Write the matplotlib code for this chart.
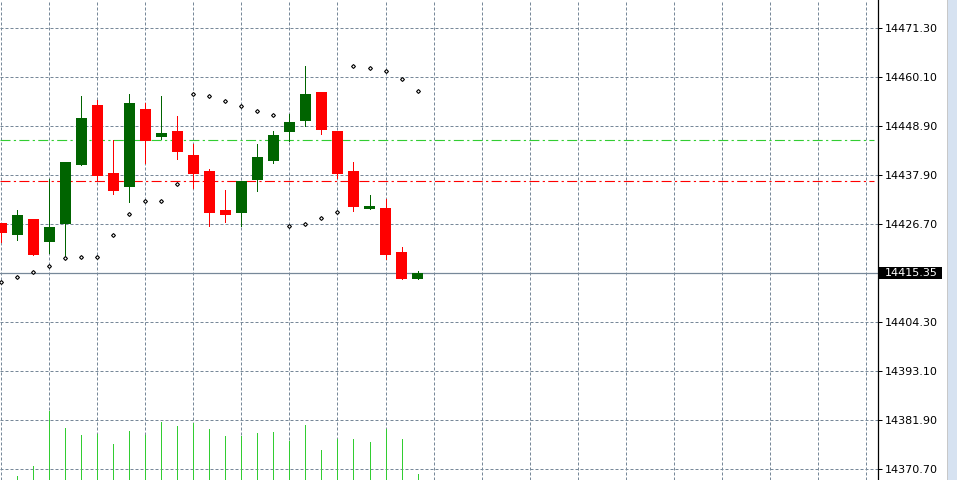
import matplotlib
matplotlib.use("Agg")
import matplotlib.pyplot as plt
from matplotlib.patches import Rectangle
from matplotlib.transforms import IdentityTransform

# candles, oldest first
opens = [14426.80, 14424.12, 14427.71, 14422.52, 14426.64, 14440.12, 14453.77, 14438.23, 14435.09,
         14452.85, 14446.52, 14447.83, 14442.34, 14438.68, 14429.77, 14429.15, 14436.69, 14441.04,
         14447.67, 14450.18, 14456.74, 14447.83, 14438.68, 14430.07, 14430.29, 14420.17, 14414.07]
highs = [14426.80, 14429.77, 14427.71, 14436.85, 14440.74, 14455.83, 14454.91, 14445.77, 14456.35,
         14454.23, 14455.83, 14451.25, 14444.85, 14439.14, 14434.34, 14436.40, 14444.85, 14447.83,
         14451.71, 14462.68, 14456.74, 14447.83, 14440.74, 14433.20, 14432.28, 14421.31, 14415.83]
lows = [14422.50, 14422.98, 14419.55, 14420.01, 14418.96, 14440.12, 14436.63, 14433.43, 14431.67,
        14440.58, 14446.07, 14441.49, 14434.73, 14426.18, 14427.09, 14426.18, 14434.18, 14440.58,
        14445.54, 14449.04, 14447.21, 14437.15, 14429.61, 14430.07, 14418.64, 14414.07, 14414.07]
closes = [14424.60, 14428.63, 14419.55, 14425.88, 14440.74, 14450.80, 14437.61, 14434.18, 14454.23,
          14445.61, 14447.37, 14443.09, 14438.07, 14429.15, 14428.69, 14436.40, 14441.88, 14446.91,
          14449.88, 14456.28, 14448.12, 14438.07, 14430.52, 14430.75, 14419.55, 14414.07, 14415.35]
sar = [14413.31, 14414.61, 14415.76, 14417.13, 14418.96, 14419.19, 14419.19, 14424.21, 14428.79,
       14431.76, 14431.76, 14435.64, 14456.21, 14455.76, 14454.61, 14453.47, 14452.33, 14451.41,
       14426.27, 14426.73, 14428.10, 14429.47, 14462.61, 14462.16, 14461.47, 14459.64, 14456.90]
volumes = [0, 80, 280, 1380, 1040, 900, 920, 720, 980, 900, 1160, 1080, 1140, 1020, 880, 880,
           940, 960, 780, 1100, 600, 820, 820, 760, 1020, 820, 120]

price_ticks = [14471.30, 14460.10, 14448.90, 14437.90, 14426.70, 14415.50,
               14404.30, 14393.10, 14381.90, 14370.70]
price_labels = ["14471.30", "14460.10", "14448.90", "14437.90", "14426.70", "",
                "14404.30", "14393.10", "14381.90", "14370.70"]
take_profit = 14445.77
stop_loss = 14436.33
last_price = closes[-1]

grid_col = "#778899"
up_col = "#006400"
down_col = "#ff0000"
vol_col = "#32cd32"

fig = plt.figure(figsize=(9.57, 4.8), dpi=100)
fig.patch.set_facecolor("white")
ax = fig.add_axes([0, 0, 877.5 / 957, 1])
ax_v = ax.twinx()

ax.set_xlim(-0.08, 54.73)
ax.set_ylim(14368.17, 14477.76)

# grid
ax.set_xticks(range(0, 55, 3))
ax.set_yticks(price_ticks)
ax.set_yticklabels(price_labels)
ax.grid(True, color=grid_col, linestyle=(0, (3, 2)), linewidth=0.72)
ax.set_axisbelow(True)
ax.yaxis.tick_right()
ax.tick_params(axis="x", length=0, labelbottom=False)
ax.tick_params(axis="y", direction="out", length=3, width=0.72, pad=2,
               labelsize=8, colors="black", left=False, labelleft=False,
               right=True, labelright=True)
for s in ["top", "left", "bottom"]:
    ax.spines[s].set_visible(False)
ax.spines["right"].set_linewidth(0.9)

# volumes
ax_v.set_ylim(0, 9600)
ax_v.set_axis_off()
x = list(range(len(opens)))
ax_v.vlines(x, 0, volumes, color=vol_col, linewidth=0.7, antialiased=False)

# levels
ax.axhline(take_profit, xmax=0.996, color="#32cd32", linewidth=0.8,
           linestyle=(0, (9, 3, 2, 3)), zorder=2)
ax.axhline(stop_loss, xmax=0.996, color="#ff0000", linewidth=0.8,
           linestyle=(0, (9, 3, 2, 3)), zorder=2)
ax.axhline(last_price, color=grid_col, linewidth=0.9, zorder=2)

# candles
for i in x:
    c = up_col if closes[i] >= opens[i] else down_col
    ax.vlines(i, lows[i], highs[i], color=c, linewidth=0.7, zorder=3, antialiased=False)
    lo = min(opens[i], closes[i])
    h = max(abs(closes[i] - opens[i]), 0.5)
    ax.bar(i, h, bottom=lo, width=0.69, color=c, linewidth=0, zorder=4, antialiased=False)

# parabolic SAR
ax.plot(x, sar, linestyle="none", marker="D", markersize=2.0, markerfacecolor="white",
        markeredgecolor="black", markeredgewidth=0.8, zorder=5)

# right margin strip
fig.add_artist(Rectangle((947, 0), 1, 480, transform=IdentityTransform(),
                         facecolor="#c8c8c8", edgecolor="none", zorder=5))
fig.add_artist(Rectangle((948, 0), 9, 480, transform=IdentityTransform(),
                         facecolor="#d6e2f1", edgecolor="none", zorder=5))

# current price label
y_disp = ax.transData.transform((0, last_price))[1]
fig.add_artist(Rectangle((879, y_disp - 6), 63, 12, transform=IdentityTransform(),
                         facecolor="black", edgecolor="none", zorder=6))
fig.text(885, y_disp, f"{last_price:.2f}", transform=IdentityTransform(), color="white",
         fontsize=8, va="center", ha="left", zorder=7)

fig.savefig("out.png", dpi=100)
